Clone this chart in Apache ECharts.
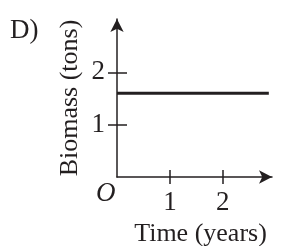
<!DOCTYPE html>
<html lang="en">
<head>
    <meta charset="UTF-8">
    <title>Biomass</title>
    <script src="https://cdn.jsdelivr.net/npm/echarts@6/dist/echarts.min.js"></script>
    <style>
        html, body { margin: 0; padding: 0; background: #fff; }
    </style>
</head>
<body>
    <div id="main" style="width: 284px;height:246px;"></div>
    <script type="text/javascript">
        // data
        var timeYears = [0, 2.87];
        var biomassTons = [1.6, 1.6];
        var xTicks = [1, 2];
        var yTicks = [1, 2];

        var ink = '#231f20';
        var serif = '"Liberation Serif", "DejaVu Serif", serif';

        var myChart = echarts.init(document.getElementById('main'));

        var lineData = timeYears.map(function (t, i) { return [t, biomassTons[i]]; });

        var option = {
            animation: false,
            grid: { left: 117, right: 12, top: 19, bottom: 69, outerBoundsMode: 'none', containLabel: false },
            graphic: [
                { type: 'text', left: 10, top: 17, style: { text: 'D)', font: '27px ' + serif, fill: ink } },
                { type: 'text', left: 96, top: 180, style: { text: 'O', font: 'italic 27px ' + serif, fill: ink } }
            ],
            xAxis: [
                {
                    type: 'value', min: 0, max: 2.93,
                    name: 'Time (years)', nameLocation: 'middle', nameGap: 40,
                    nameTextStyle: { fontFamily: serif, fontSize: 26, color: ink, padding: [0, 0, 0, 12] },
                    splitLine: { show: false },
                    axisLine: { lineStyle: { color: ink, width: 1.5 }, symbol: ['none', 'arrow'], symbolSize: [10, 13] },
                    axisTick: { customValues: xTicks, length: 7, lineStyle: { color: ink, width: 1.5 } },
                    axisLabel: { customValues: xTicks, margin: 12, fontFamily: serif, fontSize: 27, color: ink }
                },
                {
                    type: 'value', min: 0, max: 2.93, position: 'bottom',
                    splitLine: { show: false },
                    axisLine: { show: false },
                    axisTick: { customValues: xTicks, inside: true, length: 7, lineStyle: { color: ink, width: 1.5 } },
                    axisLabel: { show: false }
                }
            ],
            yAxis: [
                {
                    type: 'value', min: 0, max: 3.02,
                    name: 'Biomass (tons)', nameLocation: 'middle', nameGap: 34, nameRotate: 90,
                    nameMoveOverlap: false,
                    nameTextStyle: { fontFamily: serif, fontSize: 26, color: ink },
                    splitLine: { show: false },
                    axisLine: { lineStyle: { color: ink, width: 1.5 }, symbol: ['none', 'arrow'], symbolSize: [10, 13] },
                    axisTick: { customValues: yTicks, length: 9, lineStyle: { color: ink, width: 1.5 } },
                    axisLabel: { customValues: yTicks, margin: 12, padding: [0, 0, 5, 0], fontFamily: serif, fontSize: 27, color: ink }
                },
                {
                    type: 'value', min: 0, max: 3.02, position: 'left',
                    splitLine: { show: false },
                    axisLine: { show: false },
                    axisTick: { customValues: yTicks, inside: true, length: 10, lineStyle: { color: ink, width: 1.5 } },
                    axisLabel: { show: false }
                }
            ],
            series: [
                {
                    type: 'line',
                    data: lineData,
                    symbol: 'none',
                    lineStyle: { color: ink, width: 3 }
                }
            ]
        };

        myChart.setOption(option);
    </script>
</body>
</html>
